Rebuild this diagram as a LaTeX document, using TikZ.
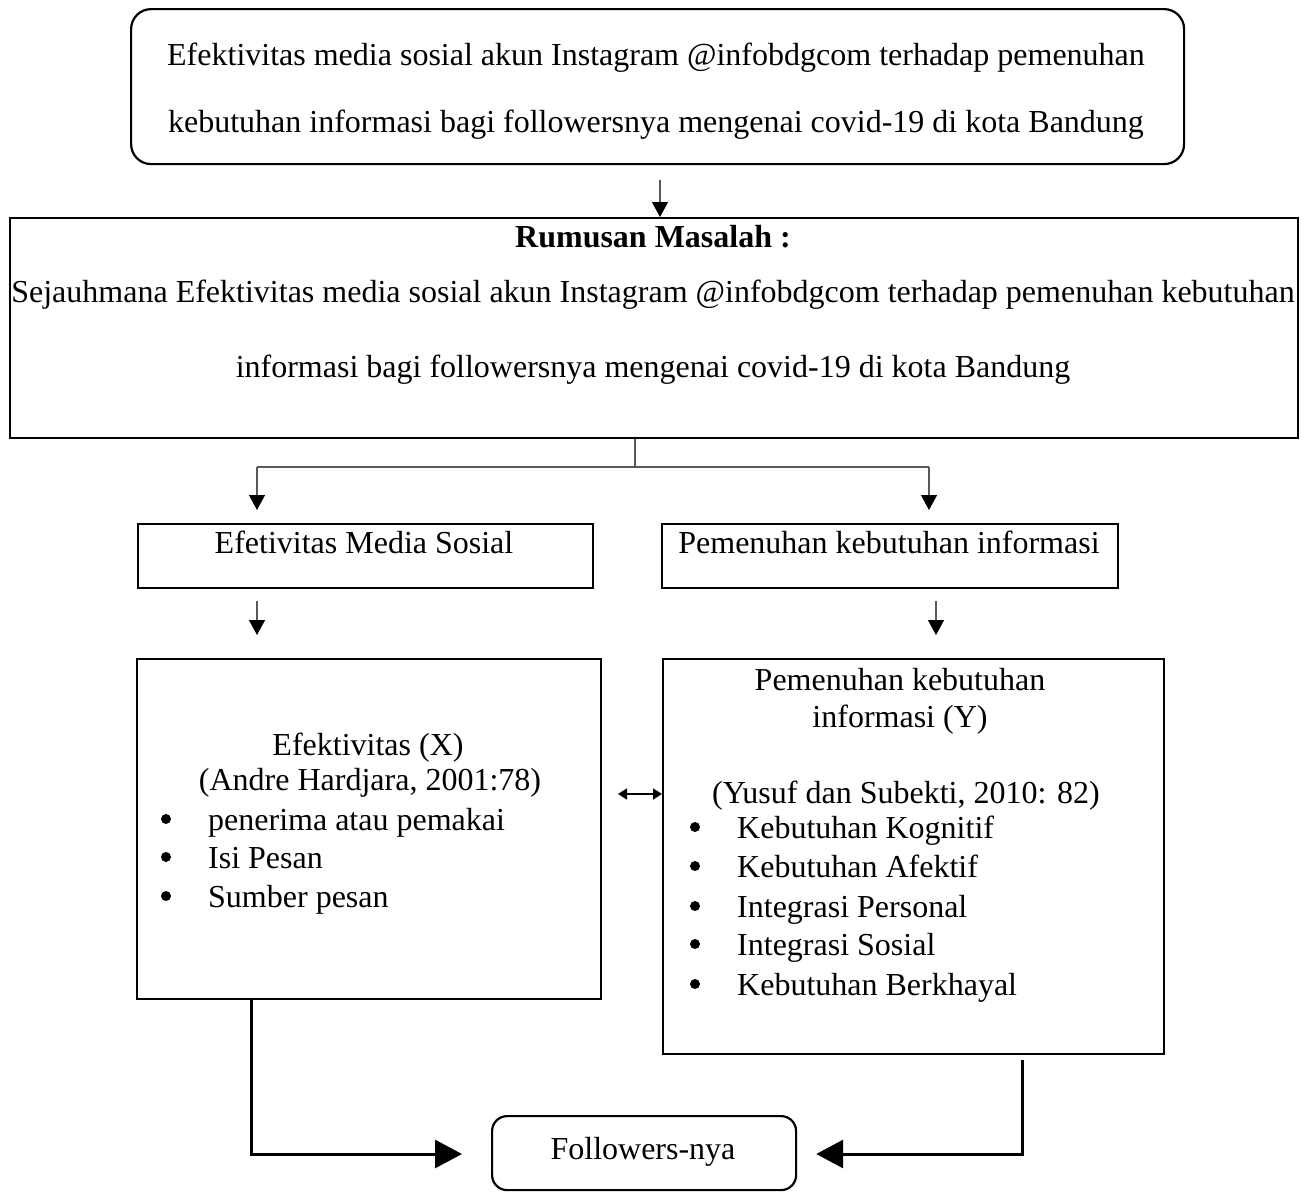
\documentclass[tikz,border=0pt]{standalone}
\usepackage{fontspec}
\setmainfont{Liberation Serif}
\usetikzlibrary{arrows.meta}
\tikzset{
  boxr/.style={draw, line width=2.2pt, rounded corners=20pt, inner sep=0pt, anchor=north west},
  boxs/.style={draw, line width=2.2pt, inner sep=0pt, anchor=north west},
  txt/.style={inner sep=0pt, font=\fontsize{32}{38}\selectfont},
  thinln/.style={draw=black!65, line width=1.3pt},
  thinarr/.style={draw=black!65, line width=1.3pt, -{Triangle[length=15pt,width=16pt,fill=black,color=black]}},
  dblarr/.style={draw=black, line width=1.6pt, {Triangle[length=9pt,width=11pt]}-{Triangle[length=9pt,width=11pt]}},
  thickarr/.style={draw=black, line width=3pt, -{Triangle[length=27pt,width=28pt]}},
  bul/.style={circle, fill=black, inner sep=0pt, minimum size=10pt}
}
\begin{document}
\begin{tikzpicture}[x=1pt,y=-1pt]
\useasboundingbox[fill=white] (0,0) rectangle (1306,1191);
% boxes
\node[boxr, minimum width=1053pt, minimum height=155pt] (top) at (130,8) {};
\node[boxs, minimum width=1288pt, minimum height=220pt] (rum) at (9,217) {};
\node[boxs, minimum width=455pt, minimum height=64pt] (sl) at (137,523) {};
\node[boxs, minimum width=456pt, minimum height=64pt] (sr) at (661,523) {};
\node[boxs, minimum width=464pt, minimum height=340pt] (bl) at (136,658) {};
\node[boxs, minimum width=501pt, minimum height=395pt] (br) at (662,658) {};
\node[draw, line width=2.2pt, rounded corners=15pt, minimum width=304pt, minimum height=74pt, inner sep=0pt, anchor=north west] (foll) at (491,1115) {};
% texts
\node[txt, anchor=base] (t1) at (656,65) {Efektivitas media sosial akun Instagram @infobdgcom terhadap pemenuhan};
\node[txt, anchor=base] (t2) at (656,132) {kebutuhan informasi bagi followersnya mengenai covid-19 di kota Bandung};
\node[txt, anchor=base, font=\fontsize{32}{38}\selectfont\bfseries] (r1) at (653,247) {Rumusan Masalah :};
\node[txt, anchor=base] (r2) at (653,302) {Sejauhmana Efektivitas media sosial akun Instagram @infobdgcom terhadap pemenuhan kebutuhan};
\node[txt, anchor=base] (r3) at (653,377) {informasi bagi followersnya mengenai covid-19 di kota Bandung};
\node[txt, anchor=base] (s1) at (364,553) {Efetivitas Media Sosial};
\node[txt, anchor=base] (s2) at (889,553) {Pemenuhan kebutuhan informasi};
\node[txt, anchor=base] (x1) at (368,755) {Efektivitas (X)};
\node[txt, anchor=base] (x2) at (370,790) {(Andre Hardjara, 2001:78)};
\node[bul] (bx1) at (166,819) {};
\node[txt, anchor=base west] (xi1) at (208,830) {penerima atau pemakai};
\node[bul] (bx2) at (166,857) {};
\node[txt, anchor=base west] (xi2) at (208,868) {Isi Pesan};
\node[bul] (bx3) at (166,896) {};
\node[txt, anchor=base west] (xi3) at (208,907) {Sumber pesan};
\node[txt, anchor=base] (y1) at (900,690) {Pemenuhan kebutuhan};
\node[txt, anchor=base] (y2) at (900,727) {informasi (Y)};
\node[txt, anchor=base] (y3) at (906,803) {(Yusuf dan Subekti, 2010: 82)};
\node[bul] (by1) at (695,827) {};
\node[txt, anchor=base west] (yi1) at (737,838) {Kebutuhan Kognitif};
\node[bul] (by2) at (695,866) {};
\node[txt, anchor=base west] (yi2) at (737,877) {Kebutuhan Afektif};
\node[bul] (by3) at (695,906) {};
\node[txt, anchor=base west] (yi3) at (737,917) {Integrasi Personal};
\node[bul] (by4) at (695,944) {};
\node[txt, anchor=base west] (yi4) at (737,955) {Integrasi Sosial};
\node[bul] (by5) at (695,984) {};
\node[txt, anchor=base west] (yi5) at (737,995) {Kebutuhan Berkhayal};
\node[txt] (fl) at (643,1152) {Followers-nya};
% x positions
\coordinate (xa) at (660,0);
\coordinate (xs) at (635,0);
\coordinate (xl) at (257,0);
\coordinate (xr) at (929,0);
\coordinate (xr2) at (936,0);
\coordinate (xbl) at (251,0);
\coordinate (xbr) at (1022,0);
\coordinate (yh) at (0,467);
\coordinate (yb) at (0,1154);
% connectors
\draw[thinarr, shorten <=15pt, shorten >=0pt] (top.south -| xa) -- (rum.north -| xa);
\draw[thinln] (rum.south -| xs) -- (xs |- yh);
\draw[thinln] (xl |- yh) -- (xr |- yh);
\draw[thinarr, shorten >=13pt] (xl |- yh) -- (sl.north -| xl);
\draw[thinarr, shorten >=13pt] (xr |- yh) -- (sr.north -| xr);
\draw[thinarr, shorten <=12pt, shorten >=23pt] (sl.south -| xl) -- (bl.north -| xl);
\draw[thinarr, shorten <=12pt, shorten >=23pt] (sr.south -| xr2) -- (br.north -| xr2);
\coordinate (dl) at (618,794);
\draw[dblarr] (dl) -- (br.west |- dl);
\draw[thickarr, shorten >=29pt] (bl.south -| xbl) -- (xbl |- yb) -- (foll.west |- yb);
\draw[thickarr, shorten <=5pt, shorten >=19pt] (br.south -| xbr) -- (xbr |- yb) -- (foll.east |- yb);
\end{tikzpicture}
\end{document}
